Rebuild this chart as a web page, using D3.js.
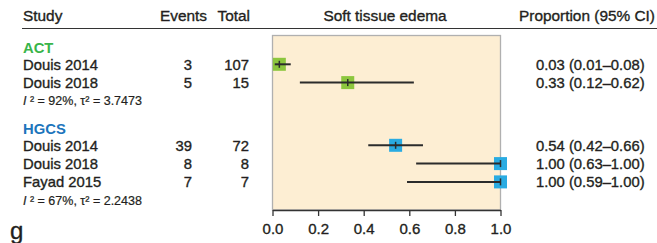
<!DOCTYPE html>
<html><head><meta charset="utf-8">
<script src="https://cdn.jsdelivr.net/npm/d3@7"></script>
<style>body{margin:0;background:#fff}svg{display:block}text{font-family:"Liberation Sans",Arial,sans-serif;fill:#231f20;stroke:#231f20;stroke-width:0.35px}</style>
</head><body>
<script>
const groups = ["ACT", "HGCS"];
const groupTextColors = ["#39b54a", "#1c75bc"];
const groupColors = ["#8cc63e", "#29abe2"];
const heterogeneity = ["92%, τ² = 3.7473", "67%, τ² = 2.2438"];
const studies = ["Douis 2014", "Douis 2018", "Douis 2014", "Douis 2018", "Fayad 2015"];
const studyGroup = [0, 0, 1, 1, 1];
const events = [3, 5, 39, 8, 7];
const totals = [107, 15, 72, 8, 7];
const estimates = [0.03, 0.33, 0.54, 1.00, 1.00];
const lower = [0.01, 0.12, 0.42, 0.63, 0.59];
const upper = [0.08, 0.62, 0.66, 1.00, 1.00];
const ticks = [0, 0.2, 0.4, 0.6, 0.8, 1.0];

const W = 657, H = 243;
const FS = 14.8;
const svg = d3.select("body").append("svg").attr("width", W).attr("height", H);
const x = d3.scaleLinear().domain([0, 1]).range([272.5, 500.5]);
const rows = [];
groups.forEach((g, gi) => {
  const base = gi ? 128 : 47;
  rows.push({type: "group", gi, y: base});
  let k = 0;
  studies.forEach((s, i) => {
    if (studyGroup[i] === gi) { rows.push({type: "study", i, y: base + 18.3 * (k + 1) - 1}); k++; }
  });
  rows.push({type: "het", gi, y: base + 18.3 * (k + 1) - 1});
});

// header
const hy = 21;
const HFS = 15.4;
svg.append("text").attr("x", 23).attr("y", hy).attr("font-size", HFS).text("Study");
svg.append("text").attr("x", 207).attr("y", hy).attr("font-size", HFS).attr("text-anchor", "end").text("Events");
svg.append("text").attr("x", 250).attr("y", hy).attr("font-size", HFS).attr("text-anchor", "end").text("Total");
svg.append("text").attr("x", 385).attr("y", hy).attr("font-size", HFS).attr("text-anchor", "middle").text("Soft tissue edema");
svg.append("text").attr("x", 655).attr("y", hy).attr("font-size", HFS).attr("text-anchor", "end").text("Proportion (95% CI)");
svg.append("line").attr("x1", 22).attr("x2", 657).attr("y1", 28.5).attr("y2", 28.5).attr("stroke", "#333").attr("stroke-width", 1.2);

// panel
const panelTop = 35.5, panelBottom = 210;
svg.append("rect").attr("x", x(0)).attr("y", panelTop).attr("width", x(1) - x(0)).attr("height", panelBottom - panelTop)
  .attr("fill", "#fdeed3").attr("stroke", "#b0b0b0").attr("stroke-width", 1.3);

// axis
const axis = svg.append("g").attr("transform", `translate(0,${panelBottom})`)
  .call(d3.axisBottom(x).tickValues(ticks).tickFormat(d3.format(".1f")).tickSize(6).tickSizeOuter(0));
axis.select(".domain").attr("stroke", "#333").attr("stroke-width", 1.3);
axis.selectAll(".tick line").attr("stroke", "#333").attr("stroke-width", 1.3);
axis.selectAll(".tick text").attr("font-size", 15).attr("dy", "1.0em").attr("fill", "#231f20").attr("stroke", "#231f20")
  .style("font-family", "'Liberation Sans',Arial,sans-serif");

rows.forEach(row => {
  if (row.type === "group") {
    svg.append("text").attr("x", 23).attr("y", row.y + 5.5).attr("font-size", FS).attr("font-weight", "bold")
      .style("fill", groupTextColors[row.gi]).style("stroke", "none").text(groups[row.gi]);
  } else if (row.type === "het") {
    const t = svg.append("text").attr("x", 23).attr("y", row.y + 4.5).attr("font-size", 12.5).style("stroke-width", "0.2px");
    t.append("tspan").attr("font-style", "italic").text("I");
    t.append("tspan").text(" ² = " + heterogeneity[row.gi]);
  } else {
    const i = row.i, y = row.y, c = groupColors[studyGroup[i]];
    svg.append("text").attr("x", 23).attr("y", y + 5.5).attr("font-size", FS).text(studies[i]);
    svg.append("text").attr("x", 192).attr("y", y + 5.5).attr("font-size", FS).attr("text-anchor", "end").text(events[i]);
    svg.append("text").attr("x", 249).attr("y", y + 5.5).attr("font-size", FS).attr("text-anchor", "end").text(totals[i]);
    svg.append("text").attr("x", 536).attr("y", y + 5.5).attr("font-size", FS)
      .text(`${estimates[i].toFixed(2)} (${lower[i].toFixed(2)}–${upper[i].toFixed(2)})`);
    const s = 13;
    svg.append("rect").attr("x", x(estimates[i]) - s / 2).attr("y", y - s / 2).attr("width", s).attr("height", s).attr("fill", c);
    svg.append("line").attr("x1", x(lower[i])).attr("x2", x(upper[i])).attr("y1", y).attr("y2", y)
      .attr("stroke", "#2b2b2b").attr("stroke-width", 2);
    svg.append("line").attr("x1", x(estimates[i])).attr("x2", x(estimates[i])).attr("y1", y - 3.5).attr("y2", y + 3.5)
      .attr("stroke", "#2b2b2b").attr("stroke-width", 1.5);
  }
});

svg.append("text").attr("x", 10).attr("y", 239).attr("font-size", 24).text("g");
</script>
</body></html>
